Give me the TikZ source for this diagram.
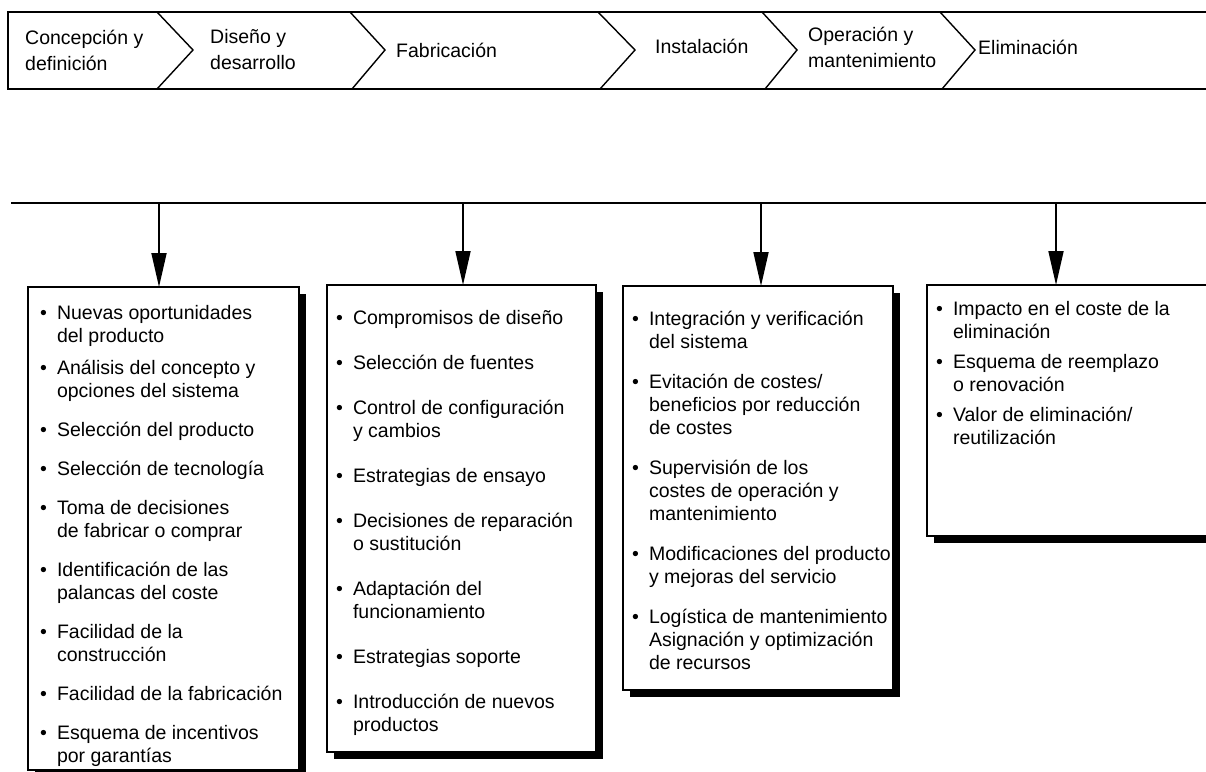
\documentclass[tikz,border=0pt]{standalone}
\usepackage{fontspec}
\setmainfont{Liberation Sans}
\usetikzlibrary{arrows.meta}

\begin{document}
\begin{tikzpicture}[x=1pt,y=1pt,yscale=-1,xscale=1,
  barlabel/.style={align=left, inner sep=0pt, font=\fontsize{19.5}{26}\selectfont},
  listtext/.style={anchor=base west, inner sep=0pt, font=\fontsize{19.5}{23}\selectfont},
  listbox/.style={draw, fill=white, line width=1.6pt, anchor=north west, inner sep=0pt, outer sep=0pt},
  downarrow/.style={line width=1.8pt, -{Triangle[length=34pt,width=15pt]}}]
\useasboundingbox (0,0) rectangle (1206,771);
\clip (0,0) rectangle (1206,771);

%Shape: Phase bar
\draw [line width=1.6]  (1212,12) -- (8,12) -- (8,89) -- (1212,89) ;
\foreach \a/\b/\c in {157/193/157, 350/385/352, 598/635/600, 762/797/765, 940/975/942}
  \draw [line width=1.4]  (\a,12) -- (\b,50) -- (\c,89) ;

% Text Node
\node [barlabel, anchor=west] (pconc) at (25,50) {Concepción y\\definición};
% Text Node
\node [barlabel, anchor=west] (pdis) at (210,50) {Diseño y\\desarrollo};
% Text Node
\node [barlabel, anchor=west] (pfab) at (396,50) {Fabricación};
% Text Node
\node [barlabel, anchor=west] (pinst) at (655,46) {Instalación};
% Text Node
\node [barlabel, anchor=west] (poper) at (808,47) {Operación y\\mantenimiento};
% Text Node
\node [barlabel, anchor=west] (pelim) at (978,47) {Eliminación};

%Straight Lines
\draw [line width=2]  (11,203) -- (1212,203) ;
\coordinate (s1) at (159,203);
\coordinate (s2) at (463,203);
\coordinate (s3) at (761,203);
\coordinate (s4) at (1056,203);

%Shadows
\fill (35,294) rectangle (306,778) ;
\fill (334,292) rectangle (603,759) ;
\fill (630,293) rectangle (900,697) ;
\fill (934,292) rectangle (1222,543) ;

%Boxes
\node [listbox, minimum width=271, minimum height=483] (b1) at (28,287) {};
\node [listbox, minimum width=269, minimum height=467] (b2) at (327,285) {};
\node [listbox, minimum width=270, minimum height=404] (b3) at (623,286) {};
\node [listbox, minimum width=290, minimum height=251] (b4) at (927,285) {};

%Arrows
\draw [downarrow]  (s1) -- (s1 |- b1.north) ;
\draw [downarrow]  (s2) -- (s2 |- b2.north) ;
\draw [downarrow]  (s3) -- (s3 |- b3.north) ;
\draw [downarrow]  (s4) -- (s4 |- b4.north) ;

% Text Node
\node [listtext] (t1) at (40,319) {\begin{tabular}[t]{@{}l@{\hspace{10pt}}l@{}}
\textbullet & Nuevas oportunidades\\
 & del producto\\[9pt]
\textbullet & Análisis del concepto y\\
 & opciones del sistema\\[16pt]
\textbullet & Selección del producto\\[16pt]
\textbullet & Selección de tecnología\\[16pt]
\textbullet & Toma de decisiones\\
 & de fabricar o comprar\\[16pt]
\textbullet & Identificación de las\\
 & palancas del coste\\[16pt]
\textbullet & Facilidad de la\\
 & construcción\\[16pt]
\textbullet & Facilidad de la fabricación\\[16pt]
\textbullet & Esquema de incentivos\\
 & por garantías
\end{tabular}};
% Text Node
\node [listtext] (t2) at (336,324) {\begin{tabular}[t]{@{}l@{\hspace{10pt}}l@{}}
\textbullet & Compromisos de diseño\\[22pt]
\textbullet & Selección de fuentes\\[22pt]
\textbullet & Control de configuración\\
 & y cambios\\[22pt]
\textbullet & Estrategias de ensayo\\[22pt]
\textbullet & Decisiones de reparación\\
 & o sustitución\\[22pt]
\textbullet & Adaptación del\\
 & funcionamiento\\[22pt]
\textbullet & Estrategias soporte\\[22pt]
\textbullet & Introducción de nuevos\\
 & productos
\end{tabular}};
% Text Node
\node [listtext] (t3) at (632,325) {\begin{tabular}[t]{@{}l@{\hspace{10pt}}l@{}}
\textbullet & Integración y verificación\\
 & del sistema\\[17pt]
\textbullet & Evitación de costes/\\
 & beneficios por reducción\\
 & de costes\\[17pt]
\textbullet & Supervisión de los\\
 & costes de operación y\\
 & mantenimiento\\[17pt]
\textbullet & Modificaciones del producto\\
 & y mejoras del servicio\\[17pt]
\textbullet & Logística de mantenimiento\\
 & Asignación y optimización\\
 & de recursos
\end{tabular}};
% Text Node
\node [listtext] (t4) at (936,315) {\begin{tabular}[t]{@{}l@{\hspace{10pt}}l@{}}
\textbullet & Impacto en el coste de la\\
 & eliminación\\[7pt]
\textbullet & Esquema de reemplazo\\
 & o renovación\\[7pt]
\textbullet & Valor de eliminación/\\
 & reutilización
\end{tabular}};

\end{tikzpicture}
\end{document}
